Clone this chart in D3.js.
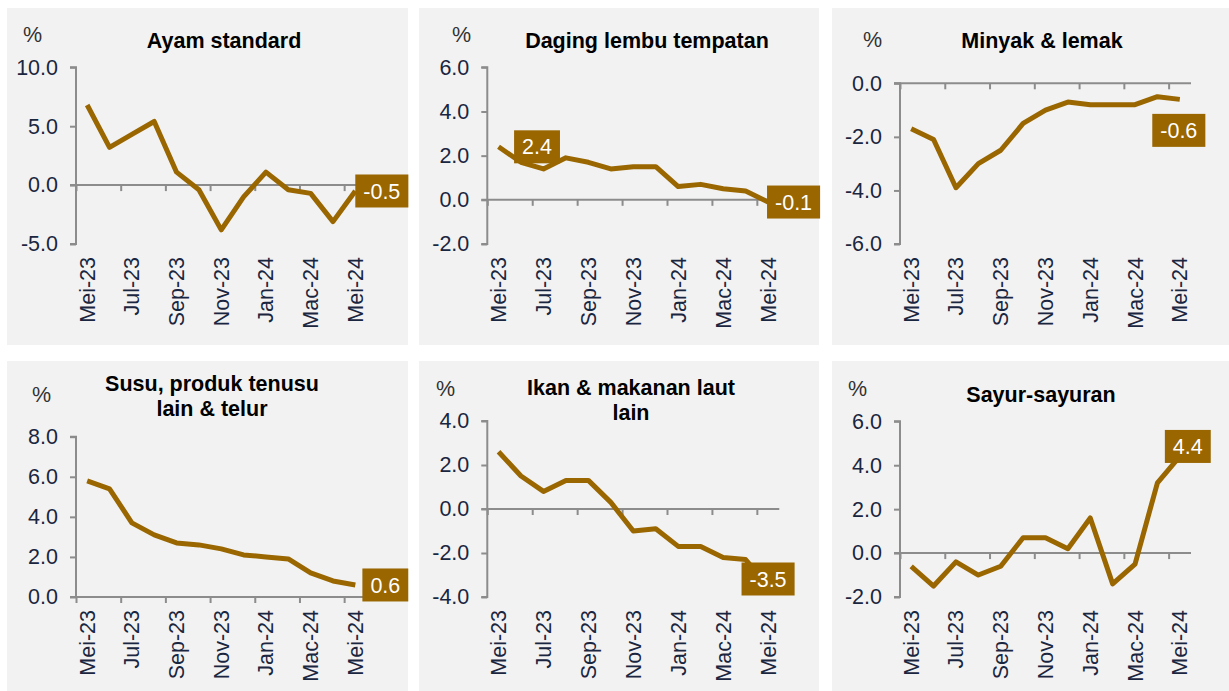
<!DOCTYPE html>
<html>
<head>
<meta charset="utf-8">
<script src="https://cdn.jsdelivr.net/npm/d3@7"></script>
<style>
  body { margin: 0; background: #fff; }
  svg { display: block; font-family: Arial, "Liberation Sans", sans-serif; }
</style>
</head>
<body>
<svg id="chart" width="1229" height="691"></svg>
<script>
// months along the x axis (every other one is labelled)
const months = ["Mei-23","Jun-23","Jul-23","Ogo-23","Sep-23","Okt-23","Nov-23",
  "Dis-23","Jan-24","Feb-24","Mac-24","Apr-24","Mei-24"];

const titles = [
  ["Ayam standard"],
  ["Daging lembu tempatan"],
  ["Minyak & lemak"],
  ["Susu, produk tenusu", "lain & telur"],
  ["Ikan & makanan laut", "lain"],
  ["Sayur-sayuran"]
];

const ayam   = [6.8, 3.2, 4.3, 5.4, 1.1, -0.4, -3.8, -1.0, 1.1, -0.4, -0.7, -3.1, -0.5];
const daging = [2.4, 1.7, 1.4, 1.9, 1.7, 1.4, 1.5, 1.5, 0.6, 0.7, 0.5, 0.4, -0.1];
const minyak = [-1.7, -2.1, -3.9, -3.0, -2.5, -1.5, -1.0, -0.7, -0.8, -0.8, -0.8, -0.5, -0.6];
const susu   = [5.8, 5.4, 3.7, 3.1, 2.7, 2.6, 2.4, 2.1, 2.0, 1.9, 1.2, 0.8, 0.6];
const ikan   = [2.6, 1.5, 0.8, 1.3, 1.3, 0.3, -1.0, -0.9, -1.7, -1.7, -2.2, -2.3, -3.5];
const sayur  = [-0.6, -1.5, -0.4, -1.0, -0.6, 0.7, 0.7, 0.2, 1.6, -1.4, -0.5, 3.2, 4.4];

const series = [ayam, daging, minyak, susu, ikan, sayur];

// y axis domains and ticks
const yDomains = [[-5, 10], [-2, 6], [-6, 0], [0, 8], [-4, 4], [-2, 6]];
const yTicks = [
  [-5, 0, 5, 10],
  [-2, 0, 2, 4, 6],
  [-6, -4, -2, 0],
  [0, 2, 4, 6, 8],
  [-4, -2, 0, 2, 4],
  [-2, 0, 2, 4, 6]
];

// which points get a value box (index into the series)
const labelled = [[12], [0, 12], [12], [12], [12], [12]];

// ---- layout (kept apart from the data) ----
const colX = [7, 419, 832], colW = [401, 400, 397];
const rowY = [8, 361], rowH = [337, 330];
const plotLeft = [69, 68.3, 68], plotWidth = [290.5, 292, 291];
const plotBottom = 236;
const plotTop = [59.3, 59.3, 75.3, 75.7, 60, 60.3];
const titleX = [217, 228, 210, 205, 212, 209];
const titleY = [40, 40, 40, 30, 34, 41];
const pctPos = [[16, 34], [33, 34], [31, 39], [25, 41], [17, 35], [16, 35]];
// box centre offsets from the labelled point
const boxOffset = [
  [[26.5, 0]],
  [[38.5, 0], [25.5, 0]],
  [[-1, 31]],
  [[30, 0]],
  [[0, -7]],
  [[8, -10]]
];

const fs = 21.5;
const lineColor = "#996600";
const axisColor = "#8c8c8c";
const tickText = "#1a2640";

const svg = d3.select("#chart");
svg.append("rect").attr("width", 1229).attr("height", 691).attr("fill", "#fff");

series.forEach((values, k) => {
  const col = k % 3, row = Math.floor(k / 3);
  const g = svg.append("g")
    .attr("transform", `translate(${colX[col]},${rowY[row]})`);

  g.append("rect")
    .attr("width", colW[col]).attr("height", rowH[row])
    .attr("fill", "#f2f2f2");

  const left = plotLeft[col];
  const x = d3.scaleLinear().domain([0, months.length]).range([left, left + plotWidth[col]]);
  const y = d3.scaleLinear().domain(yDomains[k]).range([plotBottom, plotTop[k]]);

  // title
  const t = g.append("text")
    .attr("x", titleX[k]).attr("y", titleY[k])
    .attr("text-anchor", "middle")
    .attr("font-size", 21.5).attr("font-weight", "bold").attr("fill", "#000");
  titles[k].forEach((line, j) => {
    t.append("tspan").attr("x", titleX[k]).attr("dy", j ? 25 : 0).text(line);
  });

  g.append("text")
    .attr("x", pctPos[k][0]).attr("y", pctPos[k][1])
    .attr("font-size", fs).attr("fill", "#333").text("%");

  // y axis
  const yAxis = g.append("g")
    .attr("transform", `translate(${left},0)`)
    .call(d3.axisLeft(y).tickValues(yTicks[k]).tickSize(6).tickPadding(12)
      .tickFormat(d => d.toFixed(1)));
  yAxis.select(".domain").attr("stroke", axisColor).attr("stroke-width", 2)
    .attr("d", `M-6,${y(yDomains[k][0])}H0V${y(yDomains[k][1])}H-6`);
  yAxis.selectAll(".tick line").attr("stroke", axisColor).attr("stroke-width", 2);
  yAxis.selectAll(".tick text").attr("font-size", fs).attr("fill", tickText)
    .attr("font-family", null);

  // x axis on the zero line
  const evenIdx = d3.range(0, months.length, 2);
  const xAxis = g.append("g")
    .attr("transform", `translate(0,${y(0)})`)
    .call(d3.axisBottom(x).tickValues(evenIdx).tickSize(6).tickFormat(""));
  xAxis.select(".domain").attr("stroke", axisColor).attr("stroke-width", 2)
    .attr("d", `M${x(0) - 6},0H${x(months.length)}`);
  xAxis.selectAll(".tick line").attr("stroke", axisColor).attr("stroke-width", 2);

  // month labels at the bottom of the plot
  g.selectAll("text.month")
    .data(evenIdx)
    .join("text")
    .attr("class", "month")
    .attr("transform", i => `translate(${x(i + 0.5)},${plotBottom + 13}) rotate(-90)`)
    .attr("text-anchor", "end")
    .attr("dy", "0.35em")
    .attr("font-size", fs).attr("fill", tickText)
    .text(i => months[i]);

  // series line
  const line = d3.line()
    .x((d, i) => x(i + 0.5))
    .y(d => y(d));
  g.append("path")
    .datum(values)
    .attr("d", line)
    .attr("fill", "none")
    .attr("stroke", lineColor)
    .attr("stroke-width", 5)
    .attr("stroke-linejoin", "round");

  // value boxes
  labelled[k].forEach((i, j) => {
    const cx = x(i + 0.5) + boxOffset[k][j][0];
    const cy = y(values[i]) + boxOffset[k][j][1];
    const lbl = g.append("text")
      .attr("x", cx).attr("y", cy).attr("dy", "0.35em")
      .attr("text-anchor", "middle")
      .attr("font-size", fs).attr("fill", "#fff")
      .text(values[i].toFixed(1));
    const w = lbl.node().getComputedTextLength() + 16;
    g.insert("rect", () => lbl.node())
      .attr("x", cx - w / 2).attr("y", cy - 16.5)
      .attr("width", w).attr("height", 33)
      .attr("fill", lineColor);
  });
});
</script>
</body>
</html>
